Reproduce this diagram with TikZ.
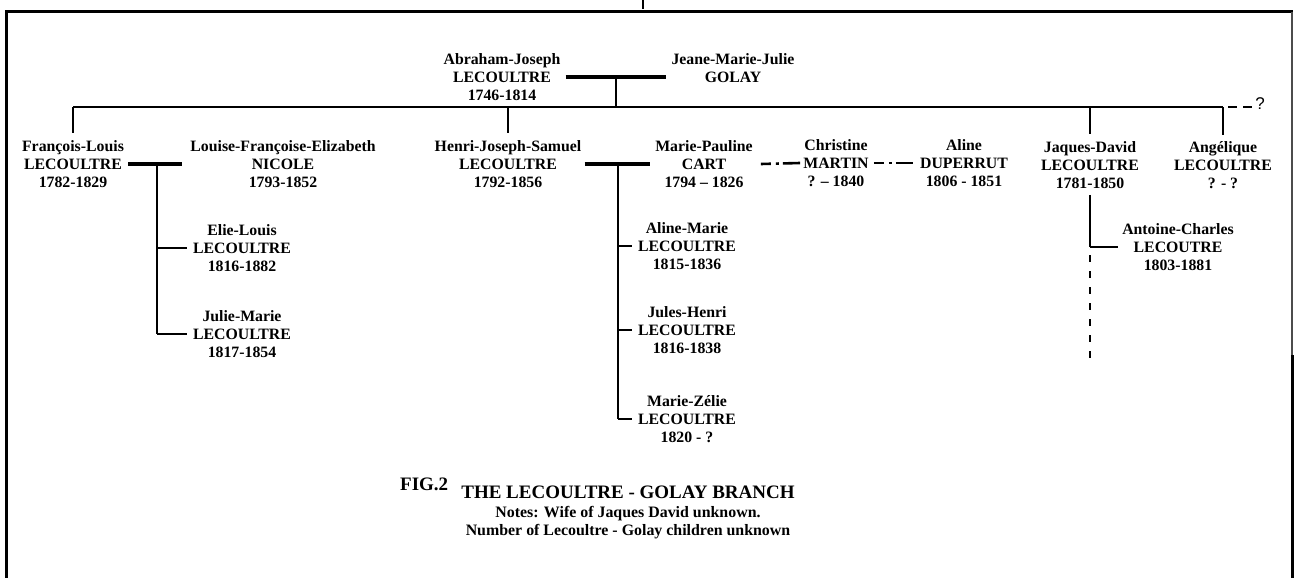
\documentclass[tikz,border=0pt]{standalone}
\usepackage{fontspec}
\setmainfont{Liberation Serif}
\newfontfamily\qfont{Liberation Sans}
\usetikzlibrary{calc}
\begin{document}
\begin{tikzpicture}[x=1pt,y=-1pt,
  person/.style={font=\fontsize{15.8}{18.2}\selectfont\bfseries, align=center, inner sep=2pt},
  trunk/.style={line width=1.8pt},
  couplebar/.style={line width=3.8pt},
  tickline/.style={line width=1.4pt},
  dashdot/.style={line width=2.6pt, dash pattern=on 10pt off 5pt on 3pt off 4pt on 40pt off 0pt},
  jdash/.style={line width=1.6pt, dash pattern=on 7pt off 9pt},
  framelin/.style={line width=3pt}]
\useasboundingbox (0,0) rectangle (1294,578);

% frame
\draw[framelin] (6.5,578) -- (6.5,12) -- (1293,12);
\draw[line width=1.2pt, black!70] (1292,12) -- (1292,355);
\draw[framelin] (1292,355) -- (1292,578);
\draw[line width=2pt] (643,0) -- (643,9);

% people
\node[person] (abr) at (502,77) {Abraham-Joseph\\LECOULTRE\\1746-1814};
\node[person] (jea) at (733,68) {Jeane-Marie-Julie\\GOLAY};
\node[person] (fra) at (73,164) {François-Louis\\LECOULTRE\\1782-1829};
\node[person] (lou) at (283,164) {Louise-Françoise-Elizabeth\\NICOLE\\1793-1852};
\node[person] (hen) at (508,164) {Henri-Joseph-Samuel\\LECOULTRE\\1792-1856};
\node[person] (map) at (704,164) {Marie-Pauline\\CART\\1794 – 1826};
\node[person] (chr) at (836,163) {Christine\\MARTIN\\? – 1840};
\node[person] (ali) at (964,163) {Aline\\DUPERRUT\\1806 - 1851};
\node[person] (jaq) at (1090,165) {Jaques-David\\LECOULTRE\\1781-1850};
\node[person] (ang) at (1223,165) {Angélique\\LECOULTRE\\? - ?};
\node[person] (eli) at (242,248) {Elie-Louis\\LECOULTRE\\1816-1882};
\node[person] (jul) at (242,334) {Julie-Marie\\LECOULTRE\\1817-1854};
\node[person] (alm) at (687,246) {Aline-Marie\\LECOULTRE\\1815-1836};
\node[person] (jhe) at (687,330) {Jules-Henri\\LECOULTRE\\1816-1838};
\node[person] (mze) at (687,419) {Marie-Zélie\\LECOULTRE\\1820 - ?};
\node[person] (ant) at (1178,247) {Antoine-Charles\\LECOUTRE\\1803-1881};

% parents
\draw[couplebar] ([xshift=3pt]abr.east) -- ([xshift=-3pt]abr.east -| jea.west);
\coordinate (abm) at ($(abr.east)!0.5!(abr.east -| jea.west)$);
\coordinate (sL) at (73,107);
\coordinate (sR) at (1223,107);
\draw[trunk] (abm) -- (abm |- sL);
\draw[trunk] (sL) -- (sR);
\node[font=\qfont\fontsize{17}{17}\selectfont, inner sep=1pt] (qm) at (1260,104) {?};
\draw[line width=1.3pt, dash pattern=on 9pt off 6pt] ([xshift=5pt]sR) -- (qm.west |- sR);

% drops to children
\draw[trunk] (fra.north |- sL) -- ([yshift=5pt]fra.north);
\draw[trunk] (hen.north |- sL) -- ([yshift=5pt]hen.north);
\draw[trunk] (jaq.north |- sL) -- ([yshift=5pt]jaq.north);
\draw[trunk] (ang.north |- sL) -- ([yshift=4pt]ang.north);

% Francois-Louis family
\draw[couplebar] ([xshift=2pt]fra.east) -- ([xshift=-6pt]fra.east -| lou.west);
\coordinate (fm) at ($(fra.east)!0.5!(fra.east -| lou.west)$);
\draw[trunk] (fm) -- (fm |- jul.west);
\draw[tickline] (fm |- eli.west) -- ([xshift=-4pt]eli.west);
\draw[tickline] (fm |- jul.west) -- ([xshift=-4pt]jul.west);

% Henri-Joseph-Samuel family
\draw[couplebar] ([xshift=1pt]hen.east) -- ([xshift=-3pt]hen.east -| map.west);
\coordinate (hm) at ($(hen.east)!0.5!(hen.east -| map.west)$);
\draw[trunk] (hm) -- (hm |- mze.west);
\draw[tickline] (hm |- alm.west) -- ([xshift=-4pt]alm.west);
\draw[tickline] (hm |- jhe.west) -- ([xshift=-4pt]jhe.west);
\draw[tickline] (hm |- mze.west) -- ([xshift=-4pt]mze.west);
\draw[dashdot] ([xshift=6pt]map.east) -- ([xshift=-1pt]chr.west);
\draw[dashdot] ([xshift=3pt]chr.east) -- ([xshift=-5pt]ali.west);

% Jaques-David
\coordinate (jt) at (jaq.south |- ant.west);
\coordinate (jend) at (1090,362);
\draw[trunk] ([yshift=-4pt]jaq.south) -- (jt);
\draw[tickline] (jt) -- ([xshift=-2pt]ant.west);
\draw[jdash] ([yshift=-8pt]jt) -- (jend);

% title
\node[font=\fontsize{19}{19}\selectfont\bfseries, anchor=west, inner sep=2pt] (fig) at (398,484) {FIG.2};
\node[font=\fontsize{19}{19}\selectfont\bfseries, inner sep=2pt] (tit) at (628,492) {THE LECOULTRE - GOLAY BRANCH};
\node[font=\fontsize{15.9}{18}\selectfont\bfseries, align=center, inner sep=2pt] (notes) at (628,523) {Notes: Wife of Jaques David unknown.\\Number of Lecoultre - Golay children unknown};
\end{tikzpicture}
\end{document}
